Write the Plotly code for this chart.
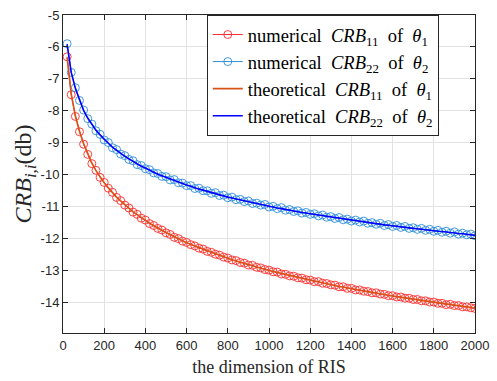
import plotly.graph_objects as go

# dimension of RIS (N = 20, 40, ..., 2000)
dims = list(range(20, 2001, 20))

# theoretical CRB_11 of theta_1 (dB)
crb11_theory = [
    -6.33, -7.47, -8.16, -8.65, -9.03, -9.36, -9.64, -9.88, -10.08, -10.26,
    -10.42, -10.57, -10.71, -10.83, -10.95, -11.06, -11.17, -11.26, -11.36, -11.44,
    -11.53, -11.61, -11.68, -11.75, -11.82, -11.89, -11.96, -12.02, -12.08, -12.14,
    -12.19, -12.25, -12.30, -12.35, -12.40, -12.45, -12.49, -12.54, -12.58, -12.63,
    -12.67, -12.71, -12.75, -12.79, -12.83, -12.86, -12.90, -12.94, -12.97, -13.01,
    -13.04, -13.07, -13.11, -13.14, -13.17, -13.20, -13.23, -13.26, -13.29, -13.32,
    -13.35, -13.37, -13.40, -13.43, -13.45, -13.48, -13.51, -13.53, -13.56, -13.58,
    -13.61, -13.63, -13.65, -13.68, -13.70, -13.72, -13.74, -13.77, -13.79, -13.81,
    -13.83, -13.85, -13.87, -13.89, -13.91, -13.93, -13.95, -13.97, -13.99, -14.01,
    -14.03, -14.05, -14.07, -14.08, -14.10, -14.12, -14.14, -14.16, -14.17, -14.19,
]

# numerical CRB_11 of theta_1 (dB)
crb11_num = [
    -6.31, -7.50, -8.18, -8.66, -9.05, -9.37, -9.66, -9.87, -10.09, -10.25,
    -10.43, -10.56, -10.72, -10.82, -10.96, -11.05, -11.18, -11.25, -11.37, -11.43,
    -11.54, -11.60, -11.69, -11.74, -11.83, -11.88, -11.97, -12.01, -12.09, -12.13,
    -12.20, -12.24, -12.31, -12.34, -12.41, -12.44, -12.50, -12.53, -12.59, -12.62,
    -12.68, -12.70, -12.76, -12.78, -12.84, -12.85, -12.91, -12.93, -12.98, -13.00,
    -13.05, -13.06, -13.12, -13.13, -13.18, -13.19, -13.24, -13.25, -13.30, -13.31,
    -13.36, -13.36, -13.41, -13.42, -13.46, -13.47, -13.52, -13.52, -13.57, -13.57,
    -13.62, -13.62, -13.66, -13.67, -13.71, -13.71, -13.75, -13.76, -13.80, -13.80,
    -13.84, -13.84, -13.88, -13.88, -13.92, -13.92, -13.96, -13.96, -14.00, -14.00,
    -14.04, -14.04, -14.08, -14.07, -14.11, -14.11, -14.15, -14.15, -14.18, -14.20,
]

# theoretical CRB_22 of theta_2 (dB)
crb22_theory = [
    -5.92, -6.80, -7.30, -7.68, -7.99, -8.23, -8.44, -8.61, -8.76, -8.90,
    -9.02, -9.14, -9.24, -9.34, -9.43, -9.51, -9.59, -9.67, -9.74, -9.80,
    -9.87, -9.93, -9.99, -10.04, -10.09, -10.15, -10.19, -10.24, -10.29, -10.33,
    -10.37, -10.42, -10.46, -10.49, -10.53, -10.57, -10.60, -10.64, -10.67, -10.71,
    -10.74, -10.77, -10.80, -10.83, -10.86, -10.89, -10.92, -10.94, -10.97, -11.00,
    -11.02, -11.05, -11.07, -11.10, -11.12, -11.14, -11.17, -11.19, -11.21, -11.23,
    -11.26, -11.28, -11.30, -11.32, -11.34, -11.36, -11.38, -11.40, -11.42, -11.44,
    -11.45, -11.47, -11.49, -11.51, -11.53, -11.54, -11.56, -11.58, -11.59, -11.61,
    -11.63, -11.64, -11.66, -11.67, -11.69, -11.70, -11.72, -11.73, -11.75, -11.76,
    -11.78, -11.79, -11.81, -11.82, -11.83, -11.85, -11.86, -11.87, -11.89, -11.91,
]

# numerical CRB_22 of theta_2 (dB)
crb22_num = [
    -5.90, -6.80, -7.28, -7.68, -7.98, -8.25, -8.42, -8.63, -8.74, -8.92,
    -9.00, -9.16, -9.22, -9.36, -9.41, -9.53, -9.57, -9.69, -9.72, -9.82,
    -9.85, -9.95, -9.97, -10.06, -10.07, -10.17, -10.16, -10.26, -10.27, -10.35,
    -10.35, -10.44, -10.43, -10.51, -10.51, -10.59, -10.57, -10.66, -10.65, -10.73,
    -10.71, -10.79, -10.78, -10.85, -10.83, -10.91, -10.90, -10.96, -10.94, -11.02,
    -11.00, -11.07, -11.04, -11.12, -11.10, -11.16, -11.14, -11.21, -11.19, -11.25,
    -11.23, -11.30, -11.27, -11.34, -11.32, -11.38, -11.35, -11.42, -11.40, -11.46,
    -11.43, -11.49, -11.46, -11.53, -11.51, -11.56, -11.53, -11.60, -11.57, -11.63,
    -11.60, -11.66, -11.63, -11.69, -11.67, -11.72, -11.69, -11.75, -11.72, -11.78,
    -11.75, -11.81, -11.78, -11.84, -11.80, -11.87, -11.84, -11.89, -11.87, -11.92,
]

x_ticks = list(range(0, 2001, 200))
x_tick_labels = [str(v) for v in x_ticks]
y_ticks = list(range(-14, -4, 1))
y_tick_labels = ["-14", "-13", "-12", "-11", "-10", "-9", "-8", "-7", "-6", "-5"]

serif = "Liberation Serif"
sans = "Liberation Sans"

gap = "&nbsp;&nbsp;"
legend_names = [
    f"numerical{gap}<i>CRB</i><sub>11</sub>{gap}of{gap}<i>θ</i><sub>1</sub>",
    f"numerical{gap}<i>CRB</i><sub>22</sub>{gap}of{gap}<i>θ</i><sub>2</sub>",
    f"theoretical{gap}<i>CRB</i><sub>11</sub>{gap}of{gap}<i>θ</i><sub>1</sub>",
    f"theoretical{gap}<i>CRB</i><sub>22</sub>{gap}of{gap}<i>θ</i><sub>2</sub>",
]

fig = go.Figure()
fig.add_trace(go.Scatter(
    x=dims, y=crb11_num, mode="lines+markers", name=legend_names[0],
    line=dict(color="#FF2A2A", width=1),
    marker=dict(symbol="circle-open", size=8, color="#FF2A2A", line=dict(width=0.9)),
))
fig.add_trace(go.Scatter(
    x=dims, y=crb22_num, mode="lines+markers", name=legend_names[1],
    line=dict(color="#2F8FD8", width=1),
    marker=dict(symbol="circle-open", size=8, color="#2F8FD8", line=dict(width=0.9)),
))
fig.add_trace(go.Scatter(
    x=dims, y=crb11_theory, mode="lines", name=legend_names[2],
    line=dict(color="#D95319", width=1.6),
))
fig.add_trace(go.Scatter(
    x=dims, y=crb22_theory, mode="lines", name=legend_names[3],
    line=dict(color="#0000FF", width=1.6),
))

axis_common = dict(
    showgrid=True, gridcolor="#E3E3E3", gridwidth=1,
    showline=True, linecolor="#262626", linewidth=1, mirror="ticks",
    ticks="inside", ticklen=5, tickcolor="#262626",
    tickfont=dict(family=sans, size=13, color="#262626"),
    zeroline=False,
)

fig.update_layout(
    width=497, height=381,
    margin=dict(l=63, r=19, t=8, b=46),
    paper_bgcolor="white", plot_bgcolor="white",
    showlegend=True,
    legend=dict(
        x=0.349, y=1.0, xanchor="left", yanchor="top",
        bgcolor="white", bordercolor="#262626", borderwidth=1,
        font=dict(family=serif, size=18.5, color="black"),
        itemwidth=30, tracegroupgap=0,
    ),
    xaxis=dict(
        range=[0, 2000], tickvals=x_ticks, ticktext=x_tick_labels,
        title=dict(text="the dimension of RIS", font=dict(family=serif, size=18, color="#262626"), standoff=8),
        **axis_common,
    ),
    yaxis=dict(
        range=[-14.97, -5], tickvals=y_ticks, ticktext=y_tick_labels,
        title=dict(text="<i>CRB</i><sub><i>i,i</i></sub>(db)", font=dict(family=serif, size=24, color="#262626"), standoff=2),
        **axis_common,
    ),
)

fig.write_html("out.html", config={"displayModeBar": False},
               post_script="document.body.style.margin='0';")
